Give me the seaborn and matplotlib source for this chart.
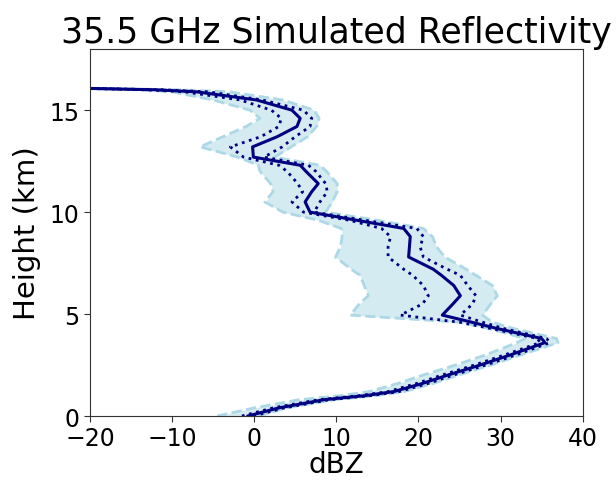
import numpy as np
import pandas as pd
import matplotlib
matplotlib.use("Agg")
import matplotlib.pyplot as plt
import seaborn as sns

# Height levels (km)
height = [0.0, 0.4, 0.8, 1.0, 1.2, 1.6, 2.0, 2.5, 3.0, 3.6, 3.8, 4.3, 4.6, 4.95,
          5.5, 5.9, 6.4, 6.9, 7.2, 7.8, 8.3, 8.8, 9.2, 9.6, 10.0, 10.5, 11.0,
          11.4, 12.0, 12.3, 12.7, 13.2, 13.7, 14.2, 14.6, 15.0, 15.5, 15.9,
          16.0, 16.15]
# Mean reflectivity (dBZ)
mean_dbz = [-0.8, 3.0, 8.5, 13.5, 17.0, 20.5, 23.5, 27.5, 31.2, 35.4, 35.0, 29.5,
            26.5, 22.9, 24.2, 25.1, 24.3, 22.8, 21.8, 18.8, 18.9, 19.0, 18.2,
            12.5, 6.8, 6.2, 7.0, 7.8, 6.3, 5.6, -0.1, -0.2, 2.8, 5.2, 5.6, 4.6,
            0.3, -7.0, -12.0, -30.0]
# Lower dotted (mean - sd)
low_dbz = [-1.5, 2.3, 7.8, 12.8, 16.3, 19.8, 22.8, 26.8, 30.5, 34.8, 34.5, 28.7,
           25.0, 17.8, 20.5, 21.2, 20.6, 19.3, 18.2, 16.3, 16.3, 16.6, 15.5,
           11.6, 6.0, 4.6, 5.9, 5.3, 4.0, 3.0, -1.3, -2.9, 0.8, 3.0, 3.3, 2.1,
           -1.7, -8.5, -13.0, -30.0]
# Upper dotted (mean + sd)
high_dbz = [-0.1, 3.7, 9.2, 14.2, 17.7, 21.2, 24.2, 28.2, 31.9, 36.0, 35.6, 30.3,
            27.8, 25.1, 26.6, 27.0, 26.0, 25.1, 23.5, 20.6, 20.2, 20.6, 19.8,
            13.5, 7.3, 8.0, 8.9, 8.7, 7.5, 6.6, 1.2, 3.4, 5.0, 6.8, 7.0, 6.0,
            1.0, -5.5, -11.0, -30.0]
# Minimum (shaded envelope)
min_dbz = [-4.5, 0.0, 5.5, 10.5, 14.0, 17.5, 20.5, 24.5, 28.2, 32.0, 33.0, 28.5,
           25.0, 11.7, 12.8, 13.9, 13.4, 12.9, 11.8, 9.9, 10.5, 10.7, 10.6,
           7.8, 3.5, 1.3, 2.3, 2.0, 0.7, 0.5, -2.0, -6.6, -3.8, -1.0, 0.7,
           -0.5, -5.0, -10.0, -14.0, -30.0]
# Maximum (shaded envelope)
max_dbz = [0.5, 4.0, 9.8, 14.8, 18.3, 21.8, 24.8, 28.8, 32.5, 37.0, 36.8, 31.5,
           29.0, 27.8, 28.8, 29.6, 29.0, 27.0, 25.8, 23.2, 22.2, 21.7, 20.6,
           15.0, 8.7, 9.5, 10.1, 10.1, 8.8, 8.0, 2.5, 4.5, 6.5, 7.6, 7.9, 7.3,
           3.5, -3.0, -9.0, -30.0]

df = pd.DataFrame({"height": height, "mean": mean_dbz, "low": low_dbz,
                   "high": high_dbz, "min": min_dbz, "max": max_dbz})

sns.set_style("ticks")
plt.rcParams["font.family"] = ["DejaVu Sans"]
plt.rcParams["text.color"] = "black"
plt.rcParams["axes.labelcolor"] = "black"
plt.rcParams["xtick.color"] = "#333333"
plt.rcParams["ytick.color"] = "#333333"
plt.rcParams["xtick.labelcolor"] = "black"
plt.rcParams["ytick.labelcolor"] = "black"

fig = plt.figure(figsize=(6.16, 4.81), dpi=100)
ax = fig.add_axes([0.146, 0.133, 0.800, 0.763])

ax.fill_betweenx(df["height"], df["min"], df["max"], color="lightblue",
                 alpha=0.5, linewidth=0)
for col in ["min", "max"]:
    sns.lineplot(data=df, x=col, y="height", orient="y", sort=False,
                 estimator=None, color="lightblue", linestyle="--",
                 linewidth=2, ax=ax)
for col in ["low", "high"]:
    sns.lineplot(data=df, x=col, y="height", orient="y", sort=False,
                 estimator=None, color="navy", linestyle=":",
                 linewidth=2, ax=ax)
sns.lineplot(data=df, x="mean", y="height", orient="y", sort=False,
             estimator=None, color="navy", linewidth=2.2, ax=ax)

ax.set_xlim(-20, 40)
ax.set_ylim(0, 18)
ax.set_xticks([-20, -10, 0, 10, 20, 30, 40])
ax.set_yticks([0, 5, 10, 15])
ax.tick_params(labelsize=17, direction="out", length=4)
for s in ax.spines.values():
    s.set_color("#333333")
ax.set_xlabel("dBZ", fontsize=20, labelpad=0, color="black")
ax.set_ylabel("Height (km)", fontsize=21, labelpad=6, color="black")
ax.set_title("35.5 GHz Simulated Reflectivity", fontsize=25, pad=5,
             color="black")

fig.savefig("out.png", dpi=100)
